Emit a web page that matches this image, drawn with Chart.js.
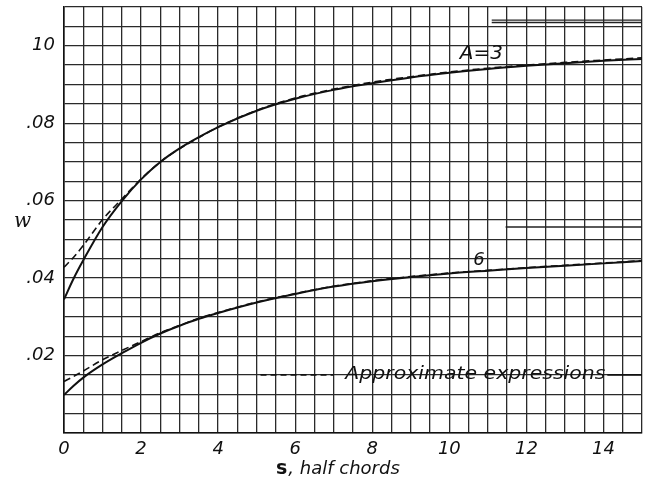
<!DOCTYPE html>
<html>
<head>
<meta charset="utf-8">
<script src="https://cdn.jsdelivr.net/npm/chart.js@4.4.1/dist/chart.umd.min.js"></script>
<style>
html,body{margin:0;padding:0;background:#fff;}
canvas{display:block;}
</style>
</head>
<body>
<canvas id="c" width="647" height="480"></canvas>
<script>
// ---- data ----
const sValues = [0, 0.25, 0.5, 1, 1.5, 2, 2.5, 3, 3.5, 4, 5, 6, 7, 8, 9, 10, 11, 12, 13, 14, 15];
const wA3Exact = [0.0345, 0.0399, 0.0446, 0.0532, 0.0599, 0.0655, 0.0700, 0.0735, 0.0764, 0.0790, 0.0832, 0.0863, 0.0886, 0.0903, 0.0918, 0.0930, 0.0940, 0.0948, 0.0955, 0.0961, 0.0966];
const wA3Approx = [0.0428, 0.0454, 0.0484, 0.0551, 0.0604, 0.0656, 0.0700, 0.0734, 0.0763, 0.0790, 0.0833, 0.0865, 0.0888, 0.0906, 0.0920, 0.0932, 0.0942, 0.0950, 0.0957, 0.0963, 0.0969];
const wA6Exact = [0.0098, 0.0122, 0.0143, 0.0177, 0.0206, 0.0233, 0.0257, 0.0277, 0.0295, 0.0310, 0.0337, 0.0359, 0.0378, 0.0392, 0.0403, 0.0412, 0.0419, 0.0426, 0.0432, 0.0438, 0.0444];
const wA6Approx = [0.0133, 0.0146, 0.0160, 0.0189, 0.0213, 0.0236, 0.0259, 0.0278, 0.0296, 0.0311, 0.0338, 0.0360, 0.0379, 0.0393, 0.0404, 0.0413, 0.0420, 0.0427, 0.0433, 0.0439, 0.0445];
const curveLabels = ['A=3', '6'];
const xTickValues = [0, 2, 4, 6, 8, 10, 12, 14];
const xTickLabels = ['0', '2', '4', '6', '8', '10', '12', '14'];
const yTickValues = [0.02, 0.04, 0.06, 0.08, 0.10];
const yTickLabels = ['.02', '.04', '.06', '.08', '10'];
const legendText = 'Approximate expressions';
// stray short horizontal strokes present on the original sheet
const strayS = [[11.1, 15], [11.1, 15], [11.46, 15]];
const strayW = [0.1066, 0.1060, 0.0532];

// ---- build ----
const pts = (xs, ys) => xs.map((x, i) => ({x: x, y: ys[i]}));
const INK = '#111';
const datasets = [
  {data: pts(sValues, wA3Exact), borderColor: INK, borderWidth: 2, pointRadius: 0, cubicInterpolationMode: 'monotone'},
  {data: pts(sValues, wA3Approx), borderColor: INK, borderWidth: 1.6, borderDash: [7, 4], pointRadius: 0, cubicInterpolationMode: 'monotone'},
  {data: pts(sValues, wA6Exact), borderColor: INK, borderWidth: 2, pointRadius: 0, cubicInterpolationMode: 'monotone'},
  {data: pts(sValues, wA6Approx), borderColor: INK, borderWidth: 1.6, borderDash: [7, 4], pointRadius: 0, cubicInterpolationMode: 'monotone'}
];
strayS.forEach((xs, i) => {
  datasets.push({data: pts(xs, [strayW[i], strayW[i]]), borderColor: '#222', borderWidth: 1.4, pointRadius: 0});
});

const near = (a, b) => Math.abs(a - b) < 1e-6;
const FONT = '"DejaVu Sans", sans-serif';

const annot = {
  id: 'annot',
  afterDatasetsDraw(chart) {
    const ctx = chart.ctx;
    const xs = chart.scales.x, ys = chart.scales.y;
    ctx.save();
    ctx.fillStyle = INK;
    ctx.strokeStyle = INK;
    // curve labels
    ctx.font = 'italic 20px ' + FONT;
    ctx.textAlign = 'center';
    ctx.textBaseline = 'middle';
    ctx.fillText(curveLabels[0], xs.getPixelForValue(10.83), ys.getPixelForValue(0.0980));
    ctx.font = 'italic 18px ' + FONT;
    ctx.fillText(curveLabels[1], xs.getPixelForValue(10.77), ys.getPixelForValue(0.0446));
    // legend
    const ly = ys.getPixelForValue(0.015);
    ctx.lineWidth = 1.6;
    ctx.setLineDash([6, 4]);
    ctx.beginPath();
    ctx.moveTo(xs.getPixelForValue(5.1), ly);
    ctx.lineTo(xs.getPixelForValue(7.0), ly);
    ctx.stroke();
    ctx.setLineDash([]);
    ctx.beginPath();
    ctx.moveTo(xs.getPixelForValue(14.1), ly);
    ctx.lineTo(xs.getPixelForValue(15), ly);
    ctx.stroke();
    const tx0 = xs.getPixelForValue(7.3), tx1 = xs.getPixelForValue(14.05);
    ctx.font = 'italic 17px ' + FONT;
    ctx.textAlign = 'left';
    const w = ctx.measureText(legendText).width;
    ctx.translate(tx0, ly);
    ctx.scale((tx1 - tx0) / w, 1);
    ctx.fillText(legendText, 0, 0);
    ctx.restore();

    // axis titles
    ctx.save();
    ctx.fillStyle = INK;
    ctx.textBaseline = 'middle';
    ctx.textAlign = 'left';
    ctx.font = 'italic 20px "DejaVu Serif", serif';
    ctx.fillText('w', 14, 222);
    let x = 276;
    ctx.font = 'bold 19px ' + FONT;
    ctx.fillText('s', x, 469);
    x += ctx.measureText('s').width;
    ctx.font = 'italic 18px ' + FONT;
    ctx.fillText(', half chords', x + 1, 469);
    ctx.restore();
  }
};

new Chart(document.getElementById('c'), {
  type: 'line',
  data: {datasets: datasets},
  plugins: [annot],
  options: {
    responsive: false,
    animation: false,
    devicePixelRatio: 1,
    layout: {padding: {left: 0, top: 7, right: 5, bottom: 0}},
    plugins: {legend: {display: false}, tooltip: {enabled: false}},
    scales: {
      x: {
        type: 'linear', min: 0, max: 15,
        afterFit(s) { s.height = 47; s.paddingLeft = 0; s.paddingRight = 0; },
        ticks: {
          stepSize: 0.5, autoSkip: false, maxRotation: 0, padding: 6,
          color: INK, font: {family: FONT, size: 18, style: 'italic'},
          callback(v) { const i = xTickValues.findIndex(t => near(t, v)); return i >= 0 ? xTickLabels[i] : ''; }
        },
        grid: {color: '#2a2a2a', lineWidth: 1.3, drawTicks: false},
        border: {color: '#111', width: 1.6}
      },
      y: {
        type: 'linear', min: 0, max: 0.11,
        afterFit(s) { s.width = 64; s.paddingTop = 0; s.paddingBottom = 0; },
        ticks: {
          stepSize: 0.005, autoSkip: false, padding: 9,
          color: INK, font: {family: FONT, size: 18, style: 'italic'},
          callback(v) { const i = yTickValues.findIndex(t => near(t, v)); return i >= 0 ? yTickLabels[i] : ''; }
        },
        grid: {color: '#2a2a2a', lineWidth: 1.3, drawTicks: false},
        border: {color: '#111', width: 1.6}
      }
    }
  }
});
</script>
</body>
</html>
